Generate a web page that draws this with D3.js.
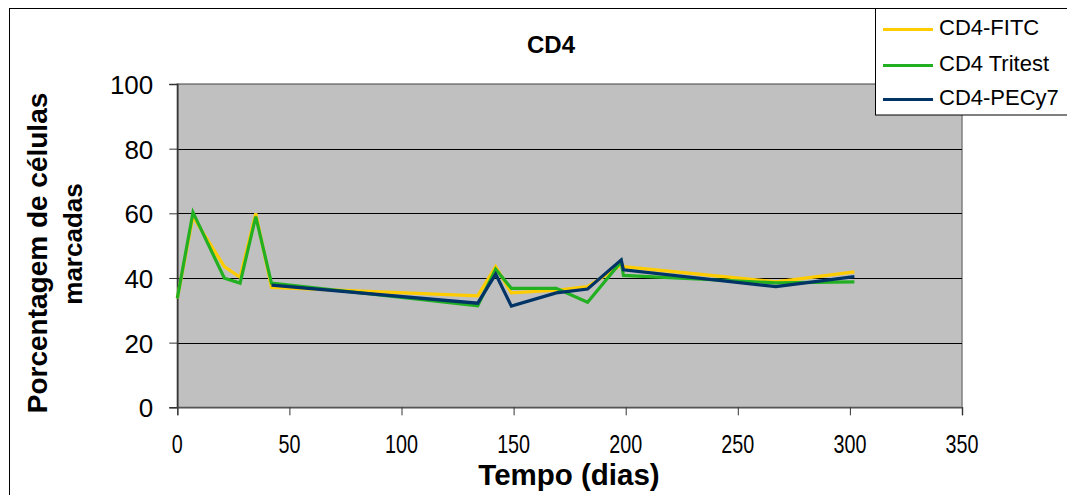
<!DOCTYPE html>
<html><head><meta charset="utf-8">
<script src="https://cdn.jsdelivr.net/npm/d3@7"></script>
<style>body{margin:0;background:#fff}svg{display:block}text{font-family:"Liberation Sans",Arial,sans-serif;fill:#000}</style>
</head><body><svg id="c" width="1067" height="495"></svg>
<script>
const days    = [0, 7, 21, 28, 35, 42, 134, 142, 149, 169, 183, 198, 199, 267, 302];
const fitc    = [33.7, 59, 43.5, 40.2, 60, 37.1, 34.5, 43.5, 35.4, 36.2, 37.3, 44, 43.5, 38.8, 41.9];
const tritest = [33.7, 60.3, 39.9, 38.4, 59, 38.4, 31.4, 42.7, 36.8, 36.8, 32.5, 45, 40.8, 38.5, 38.8];
const pecy7   = [null, null, null, null, null, 37.8, 32.2, 41.2, 31.3, 35.4, 36.6, 45.6, 42.5, 37.3, 40.4];
const seriesNames = ["CD4-FITC", "CD4 Tritest", "CD4-PECy7"];
const seriesColors = ["#FFCC00", "#22B022", "#003366"];
const xTicks = [0, 50, 100, 150, 200, 250, 300, 350];
const yTicks = [0, 20, 40, 60, 80, 100];
const title = "CD4";
const xTitle = "Tempo (dias)";
const yTitle = ["Porcentagem de células", "marcadas"];

const FONT = '"Liberation Sans",Arial,sans-serif';
const svg = d3.select("#c");
const L = 177.3, R = 962, T = 84, B = 407.3;
const x = d3.scaleLinear().domain([0, 350]).range([L, R]);
const y = d3.scaleLinear().domain([0, 100]).range([B, T]);

// outer border
svg.append("rect").attr("x", 9.5).attr("y", 8.5).attr("width", 1100).attr("height", 600)
  .attr("fill", "#fff").attr("stroke", "#000").attr("stroke-width", 1);

// plot area
svg.append("rect").attr("x", L).attr("y", T).attr("width", R - L).attr("height", B - T)
  .attr("fill", "#C0C0C0").attr("stroke", "#808080").attr("stroke-width", 1.5);

// gridlines
svg.append("g").selectAll("line").data(yTicks.filter(d => d > 0)).join("line")
  .attr("x1", L).attr("x2", R).attr("y1", d => Math.round(y(d)) + 0.5).attr("y2", d => Math.round(y(d)) + 0.5)
  .attr("stroke", d => d === 100 ? "#808080" : "#000").attr("stroke-width", 1);

// y axis
const ya = svg.append("g").attr("transform", `translate(${L},0)`)
  .call(d3.axisLeft(y).tickValues(yTicks).tickSize(8).tickFormat(d3.format("d")));
ya.select(".domain").attr("stroke", "#333").attr("stroke-width", 1.5);
ya.selectAll(".tick line").attr("stroke", "#333");
ya.selectAll(".tick text").attr("x", -24).attr("dy", "0.36em")
  .style("font-size", "26px").attr("text-anchor", "end").style("font-family", FONT);

// x axis
const xa = svg.append("g").attr("transform", `translate(0,${B})`)
  .call(d3.axisBottom(x).tickValues(xTicks).tickSize(8).tickFormat(""));
xa.select(".domain").attr("stroke", "#555").attr("stroke-width", 1.5);
xa.selectAll(".tick line").attr("stroke", "#333");
svg.append("g").selectAll("text").data(xTicks).join("text")
  .attr("transform", d => `translate(${x(d)},453) scale(0.76,1)`)
  .attr("text-anchor", "middle").style("font-size", "26px").text(d => d);

// lines
const allSeries = [fitc, tritest, pecy7];
const line = d3.line().defined(d => d[1] != null).x(d => x(d[0])).y(d => y(d[1]));
allSeries.forEach((s, i) => {
  svg.append("path").datum(days.map((d, j) => [d, s[j]]))
    .attr("d", line).attr("fill", "none").attr("stroke", seriesColors[i])
    .attr("stroke-width", 3.2).attr("stroke-linejoin", "miter");
});

// title
svg.append("text").attr("x", 551).attr("y", 53).attr("text-anchor", "middle")
  .style("font-size", "24px").style("font-weight", "bold").text(title);

// x title
svg.append("text").attr("x", 569).attr("y", 485).attr("text-anchor", "middle")
  .style("font-size", "29.5px").style("font-weight", "bold").text(xTitle);

// y title
svg.append("text").attr("transform", "translate(47,253) rotate(-90)").attr("text-anchor", "middle")
  .style("font-size", "28px").style("font-weight", "bold").text(yTitle[0]);
svg.append("text").attr("transform", "translate(82,244) rotate(-90)").attr("text-anchor", "middle")
  .style("font-size", "26px").style("font-weight", "bold").text(yTitle[1]);

// legend
svg.append("rect").attr("x", 875.5).attr("y", 8.5).attr("width", 200).attr("height", 106.5)
  .attr("fill", "#fff").attr("stroke", "#000").attr("stroke-width", 1);
const ly = [29.5, 65.5, 99.5], ty = [35, 71, 105];
seriesNames.forEach((n, i) => {
  svg.append("line").attr("x1", 883).attr("x2", 933).attr("y1", ly[i]).attr("y2", ly[i])
    .attr("stroke", seriesColors[i]).attr("stroke-width", 3.2);
  svg.append("text").attr("x", 939).attr("y", ty[i]).style("font-size", "22px").text(n);
});
</script></body></html>
